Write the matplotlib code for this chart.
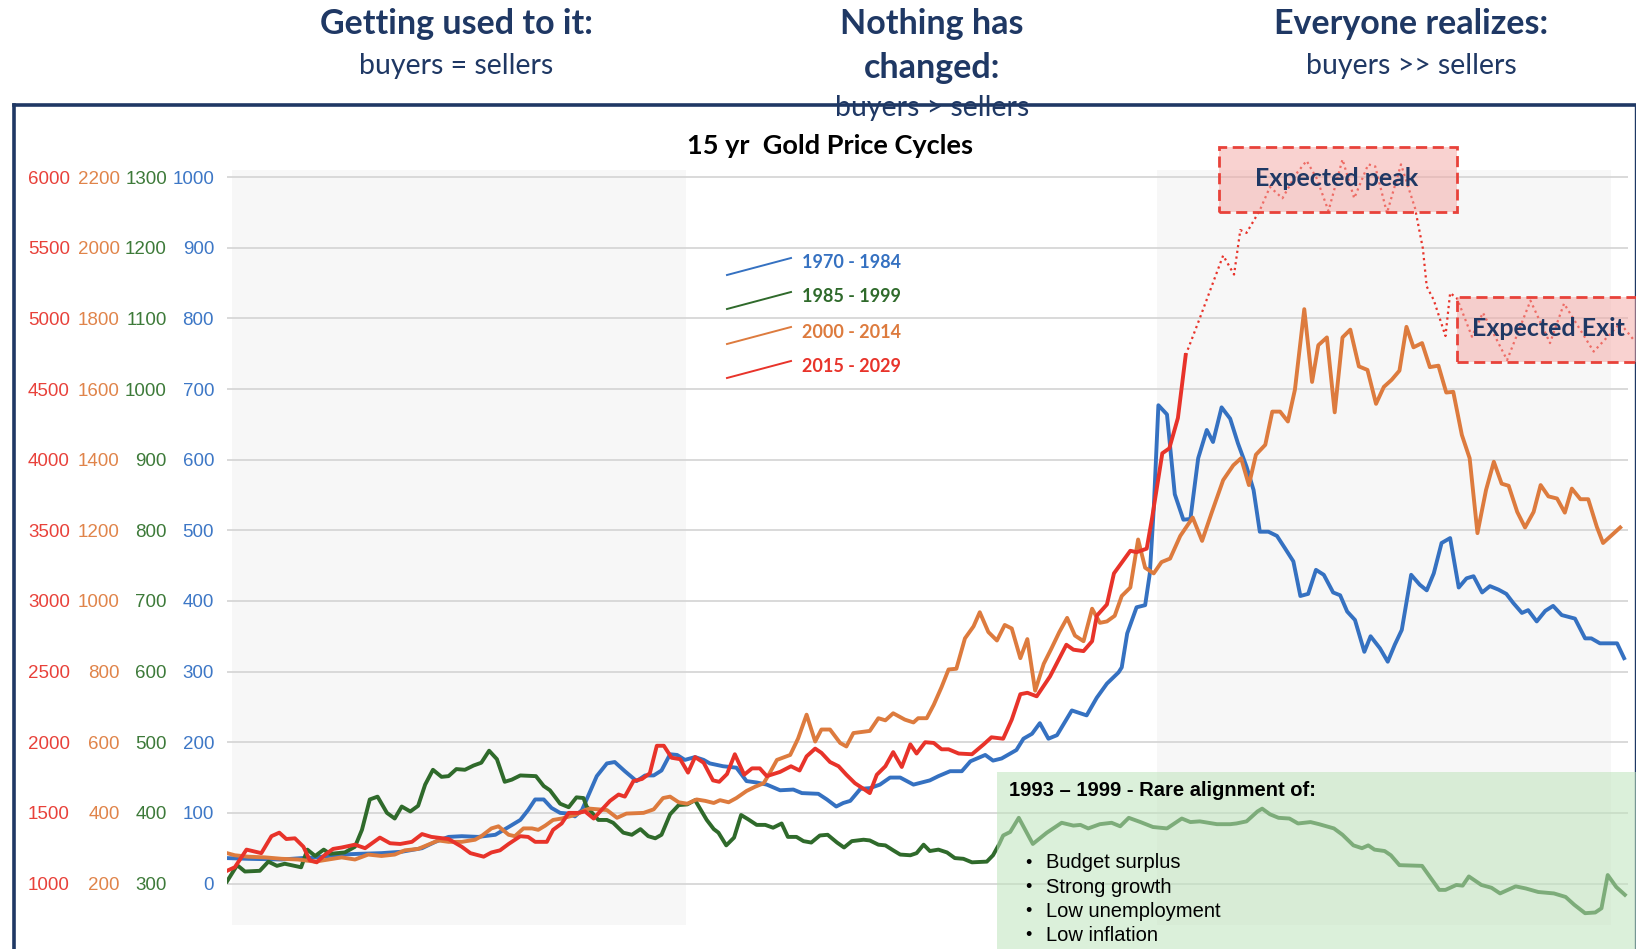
import matplotlib
matplotlib.use('Agg')
import matplotlib.pyplot as plt
from matplotlib.patches import Rectangle
from matplotlib.lines import Line2D

W, H = 1636, 949

# months since start of each 15-year cycle, value in that cycle's own unit
blue_m = [0, 2.7, 7, 9.6, 11.3, 14.7, 16.8, 19.8, 22.4, 25, 26.7, 28.4, 30.1, 32.2, 34.4, 36.1, 37.6, 38.6, 39.5, 40.6, 41.6, 42.7, 43.8, 44.6,
          45.5, 46.1, 47.4, 48.7, 49.7, 51, 52.5, 53.6, 54.7, 55.7, 56.8, 57.7, 58.7, 60, 61.1, 61.9, 63.6, 65.3, 66.6, 67.9, 69.2, 70.9, 72.6, 73.7, 75.8, 76.9, 78.1, 79, 79.9, 81.2, 82.4, 83.7, 85, 86.3, 88, 90.1, 91.2,
          92.7, 94.2, 95.3, 97.2, 98.2, 99.3, 101.2, 102.1, 103.2, 104.2, 105.3, 106.4, 108.3, 110.2, 111.5, 112.8, 114.3, 114.7, 115.4, 116.6, 117.7, 118.3, 118.8, 119.4, 120.5, 121.5, 122.6, 123.5,
          124.5, 125.6, 126.4, 127.5, 128.6, 129.6, 130.7, 131.6, 132.4, 133.5, 134.6, 135.6, 136.7, 137.6, 138.6, 139.6, 140.6, 141.8, 142.7, 143.6, 144.6, 145.8, 146.6, 147.8, 148.8, 149.7, 150.6,
          151.8, 152.9, 153.8, 154.7, 155.7, 156.8, 157.9, 158.9, 159.8, 160.9, 161.9, 163, 164, 164.9, 166, 166.8, 167.9, 169, 170, 171.1, 172.8, 174.1, 174.9, 176, 178.2, 179.1]
blue_v = [36, 35, 34, 36, 37, 41, 42, 43, 45, 50, 59, 66, 67, 66, 69, 80, 90, 104, 119, 119, 107, 100, 99, 95,
          104, 119, 152, 170, 172, 159, 145, 153, 153, 160, 183, 182, 175, 179, 175, 170, 166, 164, 145, 143, 140, 132, 133, 128, 127, 119, 109, 114, 117, 134, 135, 140, 150, 150, 140, 146, 152,
          159, 159, 173, 182, 174, 177, 189, 205, 212, 227, 205, 210, 245, 238, 263, 283, 299, 306, 354, 391, 394, 439, 530, 677, 664, 551, 515, 516,
          602, 642, 625, 674, 658, 623, 590, 557, 498, 498, 492, 475, 456, 407, 410, 444, 437, 412, 408, 385, 373, 328, 350, 333, 314, 338, 359,
          437, 423, 415, 439, 482, 489, 419, 432, 435, 412, 421, 416, 410, 397, 383, 387, 371, 386, 393, 380, 375, 347, 347, 340, 340, 319]

green_m = [0, 1.3, 2.3, 4.2, 5.3, 6.4, 7.4, 9.5, 10.3, 11.3, 12.4, 13.2, 15.1, 16.4, 17.3, 18.3, 19.3, 20.5, 21.5, 22.4, 23.5, 24.5, 25.4, 26.4, 27.5, 28.4, 29.4, 30.5, 31.6, 32.6, 33.6, 34.6, 35.6, 36.5, 37.6, 39.6, 40.6, 41.4, 42.7, 43.8, 44.8, 45.7,
           46.1, 47.6, 48.7, 49.5, 50.8, 51.9, 53, 54, 54.9, 55.7, 56.8, 57.9, 59, 60, 61.5, 62.4, 63, 64, 65, 65.9, 66.8, 67.9, 69, 70, 71.1, 71.9, 73, 73.9, 74.9, 76, 77, 78.2, 79.1, 80.1, 81.6, 82.4, 83.5, 84.4, 85.4, 86.3, 87.6, 88.4, 89.3, 90.1, 91.2,
           92.3, 93.3, 94.4, 95.5, 97.4, 98.2, 99, 99.5, 100.4, 101.5, 103.3, 105.1, 107, 108.5, 109.4, 110.4, 111.9, 113.4, 114.5, 115.6, 117.1, 118.7, 120.5, 122.4, 123.5, 124.7, 126.9, 128.6,
           129.4, 130.7, 132.1, 132.7, 133.7, 134.8, 136.2, 137.3, 138.9, 140, 141.9, 143, 144.4, 145.5, 146.3, 147.1, 148.4, 149.2, 150.3, 153.2, 155.4, 156.2, 157.6, 158.4, 159.2, 160.8, 162.1, 163.2, 165.2, 166.5, 168.1, 170.1, 171.6, 172.7, 174.1, 175.4, 176.2, 177, 178.1, 179.2]
green_v = [303, 326, 317, 318, 331, 325, 328, 323, 348, 339, 348, 342, 344, 352, 376, 419, 423, 400, 392, 409, 402, 410, 440, 461, 451, 452, 462, 461, 467, 471, 488, 476, 444, 447, 453, 452, 438, 432, 413, 408, 422, 421,
           409, 390, 390, 386, 372, 369, 377, 367, 364, 369, 398, 411, 412, 418, 390, 377, 372, 354, 365, 397, 391, 383, 383, 379, 385, 366, 366, 360, 358, 368, 369, 358, 351, 360, 362, 361, 355, 354, 347, 341, 340, 343, 355, 346, 348,
           344, 336, 335, 330, 331, 340, 356, 368, 373, 393, 356, 372, 386, 382, 383, 378, 384, 386, 381, 393, 387, 380, 378, 392, 387, 388, 384, 384,
           385, 388, 402, 406, 398, 393, 392, 385, 387, 384, 378, 369, 354, 350, 354, 348, 346, 340, 326, 325, 291, 291, 298, 297, 310, 298, 294, 286, 296, 293, 288, 286, 281, 270, 258, 259, 265, 312, 295, 284]

orange_m = [0, 1, 2.7, 4.9, 7, 9.1, 11.3, 13, 14.7, 16.4, 18.1, 19.8, 21.5, 22.8, 24.5, 25.8, 27.1, 28.4, 30.1, 31.8, 32.6, 33.9, 34.8, 36.1, 36.9, 38, 39.1, 39.9, 40.8, 41.8, 42.9, 44.6, 45.9,
            46.5, 48.7, 50, 51.2, 53.4, 54.7, 55.9, 56.8, 57.9, 59, 60.2, 61.3, 62.4, 63.2, 64.3, 65.3, 66.6, 67.7, 68.8, 69.6, 70.5, 72.2, 73.2, 74.3, 75.4, 76.2, 77.3, 78.6, 79.4, 80.3, 82.4, 83.5, 84.4, 85.4, 86.9, 88, 88.6, 89.7, 90.6, 91.6,
            92.5, 93.5, 94.6, 95.7, 96.5, 97.6, 98.7, 99.7, 100.6, 101.7, 102.6, 103.6, 104.7, 105.7, 106.7, 107.7, 108.7, 109.8, 110.9, 111.9, 112.8, 113.8, 114.7, 115.8, 116.8, 117.7, 118.8, 119.8, 120.9, 122.2,
            123.8, 125, 126.2, 127.7, 129, 130, 131, 131.9, 133.1, 134, 135, 136, 136.9, 138.1, 139.1, 139.9, 141, 142, 143, 144, 145.1, 146.2, 147.3, 148.3, 149.3, 150.3, 151.2, 152.1, 153.2, 154.2, 155.3,
            156.3, 157.2, 158.3, 159.3, 160.3, 161.4, 162.4, 163.4, 164.3, 165.4, 166.4, 167.5, 168.4, 169.4, 170.5, 171.5, 172.4, 173.5, 174.5, 175.6, 176.4, 177.5, 178.6]
orange_v = [286, 280, 276, 274, 270, 268, 262, 268, 274, 268, 282, 278, 282, 294, 298, 310, 322, 318, 318, 324, 334, 356, 362, 338, 334, 356, 356, 352, 364, 380, 384, 394, 408,
            412, 408, 386, 398, 400, 410, 442, 446, 430, 426, 438, 434, 428, 436, 430, 442, 462, 474, 484, 514, 550, 564, 610, 678, 602, 636, 636, 598, 588, 626, 632, 668, 662, 682, 664, 656, 668, 668, 706, 756,
            806, 808, 894, 928, 968, 912, 888, 932, 922, 838, 892, 746, 822, 866, 912, 952, 902, 886, 978, 938, 942, 958, 1014, 1038, 1174, 1094, 1078, 1110, 1120, 1184,
            1236, 1170, 1248, 1342, 1384, 1404, 1328, 1414, 1442, 1536, 1536, 1508, 1598, 1826, 1620, 1724, 1746, 1534, 1746, 1768, 1664, 1654, 1558, 1606, 1626, 1652, 1776, 1718, 1730, 1662, 1666,
            1590, 1592, 1470, 1404, 1192, 1314, 1394, 1332, 1326, 1252, 1208, 1252, 1328, 1296, 1290, 1250, 1318, 1288, 1288, 1210, 1164, 1186, 1208]

red_m = [0, 1, 2.5, 4.4, 5.7, 6.7, 7.6, 8.7, 9.8, 10.6, 11.5, 12.6, 13.6, 14.7, 16.4, 17.7, 19.6, 20.9, 22.2, 23.7, 25, 26.2, 28.4, 30.1, 31.2, 32.9, 33.9, 35, 36.1, 37.6, 38.6, 39.5, 41, 41.8, 42.9, 43.8, 45, 45.9,
         47, 48, 49.1, 50.2, 51, 52.1, 53.2, 54.2, 55.1, 56, 57, 58.1, 59.1, 60, 61.1, 62.3, 63.1, 64.1, 65.1, 66.3, 67.3, 68.3, 69.2, 70.9, 72.3, 73.4, 74.3, 75.4, 76.2, 77.3, 78.4, 79.4, 80.5, 81.6, 82.4, 83.3, 84.4, 85.4, 86.5, 87.6, 88.4, 89.5, 90.6, 91.6, 92.5,
         93.8, 95.5, 97, 98, 99.5, 100.6, 101.7, 102.6, 103.8, 105.5, 107.6, 108.5, 109.8, 110.9, 111.5, 112.8, 113.7, 115.8, 116.6, 117.9, 118.6, 119.9, 120.8, 121.9, 122.9]
red_v = [1090, 1115, 1240, 1215, 1335, 1360, 1315, 1320, 1260, 1165, 1150, 1205, 1245, 1255, 1275, 1250, 1325, 1285, 1280, 1295, 1350, 1330, 1315, 1260, 1215, 1190, 1220, 1235, 1280, 1335, 1330, 1295, 1295, 1380, 1425, 1500, 1500, 1510,
         1460, 1520, 1585, 1630, 1615, 1725, 1740, 1780, 1975, 1975, 1890, 1880, 1785, 1895, 1855, 1730, 1720, 1775, 1915, 1770, 1815, 1815, 1760, 1790, 1830, 1800, 1900, 1955, 1925, 1860, 1830, 1770, 1710, 1670, 1640, 1770, 1830, 1930, 1825, 1985, 1920, 2000, 1995, 1950, 1950,
         1920, 1915, 1985, 2035, 2025, 2160, 2340, 2350, 2325, 2465, 2690, 2655, 2645, 2715, 2895, 2975, 3195, 3355, 3345, 3370, 3590, 4045, 4080, 4295, 4740]

# dotted projection for the current cycle
proj_m = [122.9, 124.7, 127.7, 129.1, 129.9, 130.7, 132.4, 133.7, 135.3, 137.1, 138.4, 139.7, 141.2, 143, 144.5, 146.3, 147.2, 148.7, 150.5, 152.3,
          153.3, 153.8, 154.7, 156.2, 156.8, 157.7, 159.6, 161, 164.1, 167.1, 169.6, 171.4, 175.2, 178.6, 180.3]
proj_v = [4740, 5000, 5445, 5310, 5625, 5605, 5765, 5930, 5850, 6025, 6115, 5990, 5760, 6125, 5850, 6090, 6075, 5745, 6090, 5780,
          5495, 5225, 5130, 4875, 5180, 5140, 4870, 5040, 4705, 5125, 4825, 5105, 4765, 4965, 4850]

labels = ['1970 - 1984', '1985 - 1999', '2000 - 2014', '2015 - 2029']
bullets = ['Budget surplus', 'Strong growth', 'Low unemployment', 'Low inflation']

BLUE, GREEN, ORANGE, RED = '#3571c1', '#2f6a2b', '#dd7b3e', '#e8332a'
NAVY = '#1f3864'


def fx(x):
    return x / W


def fy(y):
    return 1 - y / H


fig = plt.figure(figsize=(W / 100, H / 100), dpi=100)

ax = fig.add_axes([fx(226.7), fy(924.5), fx(1628) - fx(226.7), fy(170) - fy(924.5)])
ax.set_xlim(-0.04, 179.6)
ax.axvspan(0.6, 58.8, color='#f7f7f7', lw=0, zorder=0)
ax.axvspan(119.2, 177.4, color='#f7f7f7', lw=0, zorder=0)
ax.set_axisbelow(True)
ax.yaxis.grid(True, color='#d9d9d9', lw=1.4)

ax_g = ax.twinx()
ax_o = ax.twinx()
ax_r = ax.twinx()

# (axis, ylim, ticks, label colour, pad in pt)
specs = [
    (ax, (-58, 1010), range(0, 1001, 100), '#3d77c6', 9.1),
    (ax_g, (242, 1310), range(300, 1301, 100), '#3d7a39', 43),
    (ax_o, (84, 2220), range(200, 2201, 200), '#e0844a', 77),
    (ax_r, (710, 6050), range(1000, 6001, 500), '#e8413a', 113),
]
for a, lim, ticks, col, pad in specs:
    a.set_ylim(*lim)
    a.set_yticks(list(ticks))
    a.yaxis.tick_left()
    a.tick_params(axis='y', length=0, pad=pad, labelcolor=col, labelsize=13.5,
                  left=False, right=False, labelleft=True, labelright=False)
    for lab in a.get_yticklabels():
        lab.set_fontfamily('Liberation Sans')
    a.set_xticks([])
    for s in a.spines.values():
        s.set_visible(False)
    a.patch.set_visible(False)

lw = 2.8
ax.plot(blue_m, blue_v, color=BLUE, lw=lw, solid_joinstyle='round')
ax_g.plot(green_m, green_v, color=GREEN, lw=lw, solid_joinstyle='round')
ax_o.plot(orange_m, orange_v, color=ORANGE, lw=lw, solid_joinstyle='round')
ax_r.plot(red_m, red_v, color=RED, lw=lw, solid_joinstyle='round')
ax_r.plot(proj_m, proj_v, color=RED, lw=1.6, ls=(0, (1, 1.6)), clip_on=False)

# legend with slanted samples
leg_y = [263, 297, 332, 366]
for lab, col, y in zip(labels, [BLUE, GREEN, ORANGE, RED], leg_y):
    fig.add_artist(Line2D([fx(727), fx(791)], [fy(y + 12), fy(y - 5)], color=col, lw=1.4,
                          transform=fig.transFigure))
    fig.text(fx(802), fy(y), lab, color=col, fontsize=13, fontweight='bold',
             family='Lato', va='center', ha='left')

# title
fig.text(fx(830), fy(146), '15 yr  Gold Price Cycles', fontsize=19.5, fontweight='bold',
         family='Lato', ha='center', va='center', color='black')

# pink boxes
fig.add_artist(Rectangle((fx(1219), fy(211.5)), fx(1457) - fx(1219), fy(147.5) - fy(211.5),
                         transform=fig.transFigure, facecolor='#f4a6a2', alpha=0.5,
                         edgecolor='none', zorder=5))
fig.add_artist(Rectangle((fx(1219), fy(211.5)), fx(1457) - fx(1219), fy(147.5) - fy(211.5),
                         transform=fig.transFigure, facecolor='none', edgecolor='#e8423a',
                         lw=2, ls=(0, (4, 2)), zorder=6))
fig.add_artist(Rectangle((fx(1457), fy(361.5)), fx(1645) - fx(1457), fy(297) - fy(361.5),
                         transform=fig.transFigure, facecolor='#f4a6a2', alpha=0.5,
                         edgecolor='none', zorder=5))
fig.add_artist(Rectangle((fx(1457), fy(361.5)), fx(1645) - fx(1457), fy(297) - fy(361.5),
                         transform=fig.transFigure, facecolor='none', edgecolor='#e8423a',
                         lw=2, ls=(0, (4, 2)), zorder=6))
fig.text(fx(1337), fy(179), 'Expected peak', fontsize=18, fontweight='bold', family='Lato',
         color=NAVY, ha='center', va='center', zorder=7)
fig.text(fx(1548), fy(329), 'Expected Exit', fontsize=18, fontweight='bold', family='Lato',
         color=NAVY, ha='center', va='center', zorder=7)

# green box
fig.add_artist(Rectangle((fx(996.5), 0), 1 - fx(996.5), fy(772), transform=fig.transFigure,
                         facecolor='#bfe4bc', alpha=0.55, edgecolor='none', zorder=5))
fig.text(fx(1009), fy(790), '1993 \u2013 1999 - Rare alignment of:', fontsize=14.5,
         fontweight='bold', family='Liberation Sans', ha='left', va='center', zorder=7)
for i, b in enumerate(bullets):
    y = 863 + i * 24.3
    fig.text(fx(1028), fy(y), '\u2022', fontsize=13, family='Liberation Sans',
             ha='center', va='center', zorder=7)
    fig.text(fx(1045.5), fy(y), b, fontsize=14.5, family='Liberation Sans',
             ha='left', va='center', zorder=7)

# frame
fig.add_artist(Line2D([fx(13.5), 1], [fy(104.5), fy(104.5)], color=NAVY, lw=2.6,
                      transform=fig.transFigure, zorder=3))
fig.add_artist(Line2D([fx(13.5), fx(13.5)], [fy(104.5), 0], color=NAVY, lw=2.6,
                      transform=fig.transFigure, zorder=3))
fig.add_artist(Line2D([fx(1634.5), fx(1634.5)], [fy(104.5), 0], color=NAVY, lw=1.0,
                      transform=fig.transFigure, zorder=3))

# phase headings
heads = [(456, 'Getting used to it:', 'buyers = sellers', None),
         (932, 'Nothing has', 'changed:', 'buyers > sellers'),
         (1411, 'Everyone realizes:', 'buyers >> sellers', None)]
for x, h1, h2, h3 in heads:
    fig.text(fx(x), fy(24), h1, fontsize=24.5, fontweight='bold', family='Lato', color=NAVY,
             ha='center', va='center', zorder=8)
    if h3 is None:
        fig.text(fx(x), fy(66), h2, fontsize=20.5, family='Lato', color=NAVY,
                 ha='center', va='center', zorder=8)
    else:
        fig.text(fx(x), fy(68), h2, fontsize=24.5, fontweight='bold', family='Lato', color=NAVY,
                 ha='center', va='center', zorder=8)
        fig.text(fx(x), fy(108), h3, fontsize=20.5, family='Lato', color=NAVY,
                 ha='center', va='center', zorder=8)

fig.savefig('out.png', dpi=100)
